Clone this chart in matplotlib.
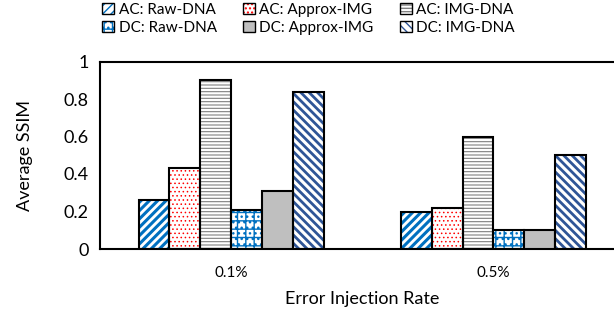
import matplotlib
matplotlib.use("Agg")
import matplotlib.pyplot as plt
import numpy as np
from matplotlib.patches import Patch
from matplotlib.legend_handler import HandlerTuple

categories = ["0.1%", "0.5%"]
series_names = ["AC: Raw-DNA", "AC: Approx-IMG", "AC: IMG-DNA",
                "DC: Raw-DNA", "DC: Approx-IMG", "DC: IMG-DNA"]
ac_raw = [0.26, 0.20]
ac_approx = [0.43, 0.22]
ac_img = [0.90, 0.60]
dc_raw = [0.21, 0.10]
dc_approx = [0.31, 0.10]
dc_img = [0.84, 0.50]
yticks = [0, 0.2, 0.4, 0.6, 0.8, 1]
ytick_labels = ["0", "0.2", "0.4", "0.6", "0.8", "1"]

series = [ac_raw, ac_approx, ac_img, dc_raw, dc_approx, dc_img]
# (facecolor, hatch, hatchcolor, hatch linewidth)
styles = [
    ("white", "////", "#0070C0", 2.2),
    ("white", "....", "#FF0000", 0.6),
    ("white", "-----", "#808080", 0.8),
    ("white", "++...", "#0070C0", 1.0),
    ("#BFBFBF", None, None, 1.0),
    ("white", "\\\\\\\\", "#2F5597", 2.0),
]

plt.rcParams['font.family'] = ['Lato', 'DejaVu Sans']
fig = plt.figure(figsize=(6.14, 3.17), dpi=100)
ax = fig.add_axes([100/614, 1-249/317, 524.5/614, 187.5/317])

x = np.arange(len(categories))
n = len(series)
w = 0.706 / n
for i, (vals, st) in enumerate(zip(series, styles)):
    fc, hatch, hc, hlw = st
    pos = x + (i - (n - 1) / 2) * w
    plt.rcParams['hatch.linewidth'] = hlw
    if hatch:
        ax.bar(pos, vals, w, color=fc, edgecolor=hc, hatch=hatch, linewidth=0, zorder=2)
        ax.bar(pos, vals, w, fill=False, edgecolor="black", linewidth=1.5, zorder=3)
    else:
        ax.bar(pos, vals, w, color=fc, edgecolor="black", linewidth=1.5, zorder=3)

ax.set_xlim(-0.5, 1.5)
ax.set_ylim(0, 1)
ax.set_yticks(yticks)
ax.set_yticklabels(ytick_labels, fontsize=13)
ax.set_xticks(x)
ax.set_xticklabels(categories, fontsize=11)
ax.tick_params(length=0, pad=8)
ax.tick_params(axis='x', pad=12)
for s in ax.spines.values():
    s.set_linewidth(1.5)
ax.set_ylabel("Average SSIM", fontsize=13, labelpad=22)
ax.set_xlabel("Error Injection Rate", fontsize=13, labelpad=8)

# legend (row-major order)
plt.rcParams['hatch.linewidth'] = 1.0
handles = []
for name, st in zip(series_names, styles):
    fc, hatch, hc, hlw = st
    if hatch:
        h = (Patch(facecolor=fc, edgecolor=hc, hatch=hatch, linewidth=0),
             Patch(fill=False, edgecolor="black", linewidth=1.0))
    else:
        h = Patch(facecolor=fc, edgecolor="black", linewidth=1.0)
    handles.append(h)
order = [0, 3, 1, 4, 2, 5]
h_ord = [handles[k] for k in order]
l_ord = [series_names[k] for k in order]
leg = fig.legend(h_ord, l_ord, ncol=3, loc="upper left",
                 bbox_to_anchor=(88/614, 1.035), frameon=False, fontsize=11,
                 handlelength=0.8, handleheight=0.8, handletextpad=0.3,
                 columnspacing=1.7, labelspacing=0.25,
                 handler_map={tuple: HandlerTuple(ndivide=1, pad=0)})

fig.savefig("out.png", dpi=100)
